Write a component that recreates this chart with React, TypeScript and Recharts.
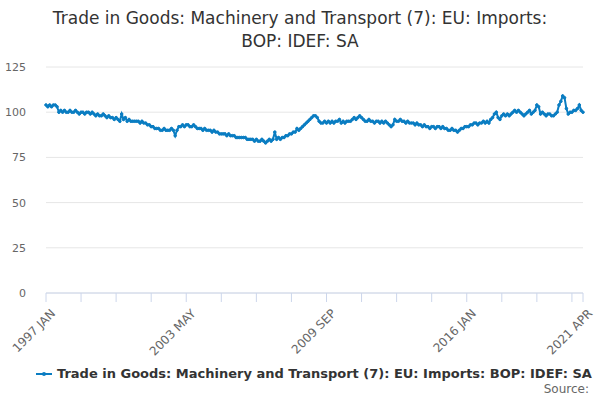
import React from "react";
import { LineChart, Line, XAxis, YAxis, CartesianGrid } from "recharts";

const startYear = 1997;
const monthNames = ["JAN","FEB","MAR","APR","MAY","JUN","JUL","AUG","SEP","OCT","NOV","DEC"];
const values: number[] = [
  104,103,104,103,104,104,103,100,101,100,101,100,
  100,101,100,100,101,100,99,100,100,99,100,100,
  99,100,99,98,99,98,98,99,98,97,98,97,
  97,96,97,96,95,99,96,97,95,96,95,95,
  95,95,95,94,95,94,94,93,93,92,92,91,
  91,91,90,90,91,90,90,90,91,90,87,90,
  92,92,93,92,93,93,92,92,93,92,91,91,
  91,90,91,90,90,90,89,90,89,89,88,88,
  88,88,87,88,87,87,87,86,86,86,86,86,
  86,85,85,85,85,84,85,84,84,85,84,83,
  84,85,84,85,89,85,86,85,86,86,87,87,
  88,88,89,89,91,90,91,92,93,94,95,96,
  97,98,98,97,95,94,94,95,94,95,94,95,
  94,95,95,96,94,95,94,95,95,95,96,97,
  96,97,98,97,96,95,95,96,95,95,94,95,
  95,94,95,94,95,94,93,92,93,96,95,95,
  96,95,95,94,95,94,94,94,93,94,93,93,
  92,93,92,92,91,92,92,91,92,92,91,92,
  91,91,90,90,91,90,90,89,90,91,91,92,
  92,92,93,93,94,94,93,94,94,95,94,95,
  94,96,97,99,100,97,96,98,99,98,99,98,
  99,100,101,100,101,100,99,98,99,100,101,99,
  100,101,104,103,99,100,99,98,99,99,98,98,
  99,100,104,106,109,108,102,99,100,100,101,101,
  102,104,101,100,
];
const xTicks = [0,19,38,57,76,95,114,133,152,171,190,209,228,247,266,285,291];
const labelledTicks = [0,76,152,228,291];
const yTicks = [0,25,50,75,100,125];
const seriesName = "Trade in Goods: Machinery and Transport (7): EU: Imports: BOP: IDEF: SA";
const title = ["Trade in Goods: Machinery and Transport (7): EU: Imports:", "BOP: IDEF: SA"];

const data = values.map((v, i) => ({ i, v }));
const monthLabel = (i: number) => `${startYear + Math.floor(i / 12)} ${monthNames[i % 12]}`;

const Tick = (props: any) => {
  const { x, y, payload } = props;
  if (!labelledTicks.includes(payload.value)) return null;
  return (
    <text x={x + 4} y={y + 4} transform={`rotate(-45 ${x + 4} ${y + 4})`} textAnchor="end" dominantBaseline="hanging" fontSize={12} fill="#666" fontFamily="DejaVu Sans">
      {monthLabel(payload.value)}
    </text>
  );
};

export default function App() {
  return (
    <div style={{ position: "absolute", left: 0, top: 0, width: 600, height: 400, background: "#fff", fontFamily: "DejaVu Sans" }}>
      <div style={{ position: "absolute", top: 7, left: 0, width: 600, textAlign: "center", fontSize: 17, color: "#333", lineHeight: "23px" }}>
        {title[0]}<br />{title[1]}
      </div>
      <LineChart width={600} height={400} data={data} margin={{ top: 67, right: 17, left: 0, bottom: 47 }}>
        <CartesianGrid vertical={false} stroke="#e6e6e6" />
        <XAxis dataKey="i" type="number" domain={[0, 291]} ticks={xTicks} interval={0} height={60}
          stroke="#ccd6eb" tickSize={9} tick={<Tick />} />
        <YAxis domain={[0, 125]} ticks={yTicks} width={46} axisLine={false} tickLine={false}
          tick={{ fontSize: 11, fill: "#666", fontFamily: "DejaVu Sans" }} tickMargin={14} />
        <Line dataKey="v" stroke="#0a7dc2" strokeWidth={2} isAnimationActive={false}
          dot={{ r: 1.3, fill: "#0a7dc2", stroke: "#0a7dc2", strokeWidth: 1 }} />
      </LineChart>
      <div style={{ position: "absolute", top: 366, left: 36, display: "flex", alignItems: "center", fontSize: 13, fontWeight: "bold", color: "#333" }}>
        <svg width={16} height={6} style={{ marginRight: 5 }}>
          <line x1={0} y1={3} x2={16} y2={3} stroke="#0a7dc2" strokeWidth={2} />
          <circle cx={8} cy={3} r={2} fill="#0a7dc2" />
        </svg>
        {seriesName}
      </div>
      <div style={{ position: "absolute", top: 382, right: 11, fontSize: 12, color: "#666" }}>Source:</div>
    </div>
  );
}
